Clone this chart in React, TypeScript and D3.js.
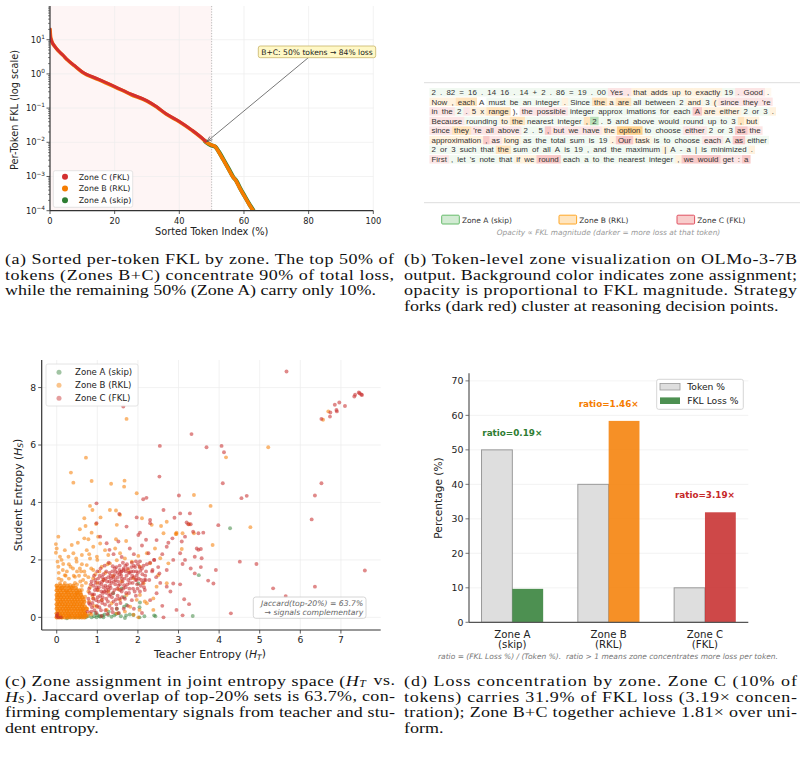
import * as d3 from "d3";
import React from "react";

// ---------- (a) sorted per-token FKL ----------
const fklIndex = [0, 0.15, 0.4, 0.8, 1.5, 2.5, 4, 5.5, 7.5, 10, 15, 20, 25, 30, 33, 36, 40, 44, 47.5, 48.5, 50, 51, 52, 53.5, 55, 56.5, 57.5, 58.5, 60, 61.5, 63, 64];
const fklValue = [21.4, 13.2, 10, 7.9, 6.3, 4.8, 3.5, 2.5, 1.74, 1.12, 0.68, 0.42, 0.25, 0.16, 0.107, 0.066, 0.04, 0.022, 0.012, 0.0098, 0.0083, 0.0076, 0.0056, 0.0032, 0.0018, 0.001, 0.00076, 0.0005, 0.00028, 0.00016, 0.000095, 0.000063];
const fklZone = ["C", "C", "C", "C", "C", "C", "C", "C", "C", "C", "C", "C", "C", "C", "C", "C", "C", "C", "C", "B", "B", "B", "B", "B", "B", "B", "B", "B", "B", "B", "B", "B"];
const fklXTicks = [0, 20, 40, 60, 80, 100];
const fklYTicks = [-4, -3, -2, -1, 0, 1];
const annotPoint = [48.5, 0.0104];

// ---------- (b) token visualization ----------
const tokenLines = [
  "2~a1 .~a1 82~a1 =~a1 16~a1 .~a1 14~a1 16~a1 .~a1 14~a1 +~a1 2~a1 .~a1 86~a1 =~a1 19~a1 .~a1 00~a1 Yes~c1 ,~c1 that~b1 adds~b1 up~b1 to~b1 exactly~b1 19~a1 .~c1 Good~c1 .~b0",
  "Now~b1 ,~b1 each~b2 A~a0 must~a1 be~a1 an~a1 integer~a1 .~b1 Since~a1 the~b2 a~b1 are~b2 all~a1 between~a1 2~a1 and~b1 3~a1 (~b1 since~c1 they~c1 're~c1",
  "in~c1 the~c1 2~a1 .~c1 5~b1 x~b1 range~b2 ),~a0 the~c1 possible~c1 integer~a1 approx~a1 imations~a1 for~a1 each~a1 A~c2 are~b1 either~b1 2~a1 or~a1 3~a1 .~b1",
  "Because~c1 rounding~a1 to~b1 the~b2 nearest~a1 integer~a1 ,~b2 2~a3 .~a1 5~a1 and~a1 above~a1 would~a1 round~a1 up~a1 to~a1 3~a1 ,~b2 but~b1",
  "since~c1 they~b2 're~c1 all~c1 above~c1 2~a1 .~a1 5~a1 ,~c2 but~c1 we~c1 have~c1 the~b1 option~b3 to~a1 choose~a1 either~c1 2~a1 or~a1 3~a1 as~c2 the~c1",
  "approximation~b1 ,~c2 as~c1 long~b1 as~a1 the~a1 total~a1 sum~a1 is~a1 19~a1 .~b1 Our~c2 task~b1 is~a1 to~a1 choose~a1 each~c1 A~a1 as~c2 either~a1",
  "2~a1 or~a1 3~a1 such~a1 that~a1 the~b2 sum~a1 of~a1 all~a1 A~a1 is~a1 19~a1 ,~a1 and~a1 the~a1 maximum~a1 |~b1 A~a1 -~a1 a~a1 |~a1 is~a1 minimized~a1 .~b1",
  "First~c1 ,~a1 let~a1 's~a1 note~a1 that~a1 if~b1 we~b1 round~c2 each~a1 a~a1 to~a1 the~a1 nearest~a1 integer~a1 ,~b1 we~c2 would~c2 get~c1 :~c1 a~c2",
];
const zoneRgb = { a: "76,175,80", b: "255,152,0", c: "229,57,53" };
const zoneAlpha = { a: [0, 0.08, 0.2, 0.4], b: [0.06, 0.13, 0.26, 0.45], c: [0.06, 0.13, 0.27, 0.4] };
const tokenLegend = ["Zone A (skip)", "Zone B (RKL)", "Zone C (FKL)"];

// ---------- (c) joint entropy scatter (H_T, H_S) ----------
const zoneAPoints =
  "0.05 0.02, 0.12 0.0, 0.25 -0.03, 0.32 0.01, 0.45 0.0, 0.57 0.0, 0.63 0.03, 0.72 0.0, 0.78 0.05, 0.86 0.0, 0.92 0.04, 0.98 0.0, 1.0 0.08, 1.05 0.05, 1.07 0.02, 1.13 0.06, 1.15 0.0, 1.18 0.1, 1.27 0.08, 1.35 0.02, 1.42 0.07, 1.46 0.12, 1.52 0.14, 1.58 0.04, 1.66 0.37, 1.66 0.7, 1.68 -0.02, 1.71 0.07, 1.72 0.43, 1.8 0.1, 1.89 0.08, 2.04 0.35, 2.04 0.0, 2.05 0.52, 2.16 0.04, 2.4 0.07, 2.43 0.04, 3.35 0.05, 3.5 1.47, 4.27 3.1, 1.39 0.84, 1.6 1.01, 2.01 1.18, 0.95 0.15, 1.28 0.2, 1.48 0.3";
const zoneBBlobRows: [number, number[]][] = [
  [0.0, [0.0, 0.06, 0.13, 0.2, 0.27, 0.34, 0.41, 0.48, 0.55, 0.62, 0.68]],
  [0.07, [0.02, 0.09, 0.16, 0.24, 0.3, 0.37, 0.45, 0.52, 0.58, 0.66, 0.71]],
  [0.14, [0.0, 0.07, 0.14, 0.21, 0.28, 0.35, 0.42, 0.5, 0.57, 0.63, 0.7]],
  [0.22, [0.03, 0.1, 0.18, 0.25, 0.31, 0.39, 0.46, 0.53, 0.6, 0.67]],
  [0.3, [0.0, 0.08, 0.15, 0.22, 0.29, 0.36, 0.44, 0.51, 0.58, 0.65, 0.73]],
  [0.38, [0.02, 0.11, 0.19, 0.26, 0.33, 0.4, 0.47, 0.55, 0.62, 0.69]],
  [0.46, [0.0, 0.07, 0.14, 0.21, 0.28, 0.36, 0.43, 0.5, 0.57, 0.64]],
  [0.54, [0.03, 0.1, 0.17, 0.25, 0.32, 0.39, 0.46, 0.53, 0.61, 0.68]],
  [0.62, [0.0, 0.08, 0.15, 0.22, 0.29, 0.37, 0.44, 0.51, 0.58, 0.66]],
  [0.7, [0.02, 0.1, 0.18, 0.26, 0.33, 0.41, 0.48, 0.56, 0.63]],
  [0.78, [0.0, 0.07, 0.14, 0.22, 0.3, 0.37, 0.45, 0.52, 0.6]],
  [0.86, [0.03, 0.11, 0.19, 0.27, 0.35, 0.43, 0.51, 0.58]],
  [0.94, [0.0, 0.08, 0.16, 0.24, 0.32, 0.4, 0.49, 0.56]],
  [1.02, [0.02, 0.12, 0.2, 0.3, 0.38, 0.47]],
  [1.1, [0.0, 0.09, 0.18, 0.27, 0.41]],
];
const zoneBPoints =
  "0.82 3.88, 0.88 3.74, 0.68 3.45, 1.31 3.74, 1.08 3.48, 0.71 3.18, 0.97 3.25, 0.86 2.95, 0.57 3.07, 0.78 2.72, 0.52 2.6, 0.68 2.75, 1.02 2.81, 1.48 3.22, 1.56 3.57, 1.46 2.72, 1.71 2.66, 2.1 3.45, 2.34 3.22, 2.57 3.18, 2.71 3.33, 2.95 2.9, 3.1 2.93, 0.0 2.4, -0.02 2.25, 0.02 1.94, 0.04 1.76, 0.08 2.11, 0.2 2.34, 0.37 2.52, 0.16 1.86, 0.29 2.11, 0.41 2.23, 0.49 1.94, 0.62 2.17, 0.74 2.34, 0.9 2.46, 1.07 2.57, 0.82 2.05, 0.99 2.11, 1.19 2.34, 1.27 2.17, 1.44 2.4, 1.56 2.23, 0.34 1.76, 0.57 1.7, 0.74 1.82, 0.9 1.65, 1.11 1.76, 1.31 1.88, 1.48 1.99, 1.68 2.05, 1.85 1.94, 2.01 2.14, 2.22 2.23, 2.42 2.4, 1.76 1.65, 2.05 1.76, 2.3 1.88, 0.2 1.47, 0.45 1.41, 0.7 1.47, 0.9 1.36, 1.15 1.3, 1.39 1.44, 1.6 1.25, 1.89 1.36, 2.14 1.19, 2.46 1.07, 2.71 1.19, 0.08 1.19, 0.33 1.13, 0.62 1.1, 0.82 1.05, 1.02 0.95, 1.27 0.9, 1.52 0.98, 1.72 0.78, 1.97 0.61, 2.22 0.49, 2.38 0.26, 2.04 0.26, 1.81 0.37, 1.56 0.61, 1.35 0.49, 1.11 0.61, 0.9 0.66, 0.7 0.72, 0.49 0.84, 0.99 0.37, 1.23 0.26, 1.48 0.14, 1.68 0.2, 1.89 0.09, 0.82 0.14, 0.64 0.26, -0.02 2.55, 0.04 2.81, 0.75 0.3, 0.8 0.55, 0.85 0.1, 0.78 0.9, 0.92 0.4, 0.88 0.75, 1.0 1.2, 0.95 1.5, 0.65 1.3, 0.55 1.45, 0.45 1.2, 0.3 1.35, 0.12 1.3, 0.05 1.55, 0.25 1.6, 0.4 1.7, 0.6 1.6, " +
  "0.1 1.0, 0.2 1.2, 0.35 1.05, 0.5 1.15, 0.62 0.95, 0.72 1.2, 0.78 1.4, 0.68 1.6, 0.5 1.6, 0.3 1.85, 0.15 1.65, 0.05 1.35, 0.25 0.9, 0.7 0.15, 0.75 0.05, 0.58 1.25, 0.42 1.45, 0.22 1.45, 0.12 2.0, 0.48 2.05, 0.62 1.85, 0.85 1.7, 1.05 1.6, 1.2 1.55, 1.25 1.85, 1.0 2.0, 0.8 2.2, " +
  "0.35 5.04, 0.41 4.69, 0.72 5.56, 0.86 4.75, 1.34 4.65, 1.66 4.55, 1.67 4.76, 1.72 6.91, 1.97 4.32, 5.21 5.92, 4.17 5.57, 3.38 4.26, 3.79 3.88, 4.77 3.14, 3.84 2.52, 3.38 2.93, 2.93 2.9, 2.95 2.95, 1.46 3.72, 6.69 7.17, 6.56 6.88, 3.26 3.24, 2.63 2.93, 3.08 2.38, 2.55 2.06, 2.75 1.88, 2.5 1.47, 2.05 0.78, 2.38 0.66, 2.17 0.55, 2.01 0.0";
const zoneCPoints =
  "0.0 0.05, 0.03 0.0, 0.02 0.12, 0.1 0.0, 0.82 0.45, 0.88 0.8, 0.9 1.1, 0.93 0.25, 0.97 0.6, 1.0 0.95, 1.02 1.35, 1.05 0.35, 1.07 0.75, 1.1 1.15, 1.12 0.5, 1.15 1.5, 1.17 0.9, 1.2 0.25, 1.22 0.65, 1.25 1.05, 1.27 1.4, 1.3 0.4, 1.32 0.8, 1.35 1.2, 1.37 1.6, 1.4 0.55, 1.42 0.95, 1.45 1.3, 1.48 0.3, 1.5 0.75, 1.52 1.1, 1.55 1.5, 1.57 0.5, 1.6 0.9, 1.62 1.25, 1.65 1.65, 1.68 0.65, 1.7 1.05, 1.72 1.45, 1.75 0.4, 1.78 0.85, 1.8 1.2, 1.83 1.6, 1.85 0.6, 1.88 1.0, 1.9 1.4, 1.93 1.75, 1.95 0.75, 1.98 1.15, 2.0 1.55, 2.05 0.9, 2.08 1.3, 2.1 1.7, 2.15 1.05, 2.18 1.45, 2.22 1.85, 0.85 0.2, 0.95 1.3, 1.08 1.7, 1.18 1.8, 1.28 1.9, 1.38 1.78, 1.47 1.75, 1.55 1.8, 1.63 1.9, 1.73 1.85, 1.58 1.58, 1.42 1.48, 1.33 1.02, 1.23 0.85, 1.13 0.7, 1.03 0.55, 0.98 0.15, 1.1 0.05, 1.25 0.12, 1.38 0.18, 1.53 0.15, 1.65 0.3, 0.78 0.65, 0.8 1.0, 0.86 1.25, 0.92 1.45, 1.0 1.6, 1.12 1.25, 1.2 1.35, 1.3 1.55, 1.36 0.7, 1.46 0.62, 1.56 0.95, 1.66 1.12, 1.76 1.3, 1.86 1.45, 1.96 1.6, 2.06 1.62, 2.12 1.2, 2.2 1.6, 2.28 1.3, 2.3 1.9, 2.35 1.6, 2.4 2.0, 2.45 1.4, 2.5 1.75, 1.1 0.9, 1.15 1.05, 1.2 1.1, 1.28 0.95, 1.34 1.35, 1.44 1.15, 1.5 1.4, 1.6 1.35, 1.7 1.6, 1.8 1.55, 1.9 1.8, 2.0 1.85, 1.45 1.6, 1.55 1.65, 1.65 1.7, " +
  "0.76 0.2, 0.79 0.5, 0.81 0.85, 0.84 1.15, 0.87 0.35, 0.9 0.65, 0.94 0.95, 0.96 1.2, 0.99 0.4, 1.01 0.7, 1.04 1.05, 1.06 1.45, 1.09 0.25, 1.11 0.6, 1.14 0.85, 1.16 1.3, 1.19 0.45, 1.21 0.95, 1.24 1.25, 1.26 0.55, 1.29 0.75, 1.31 1.1, 1.33 1.45, 1.36 0.3, 1.39 0.85, 1.41 1.25, 1.43 1.7, 1.47 0.45, 1.49 1.0, 1.51 1.25, 1.54 0.65, 1.56 1.15, 1.59 1.45, 1.61 0.7, 1.64 1.0, 1.67 1.35, 1.69 1.8, 1.71 0.85, 1.74 1.15, 1.77 1.55, 1.79 1.0, 1.82 1.35, 1.84 1.75, 1.87 1.2, 1.89 1.6, 1.92 0.9, 1.94 1.3, 1.97 1.45, 1.99 1.0, 2.02 1.35, 2.04 1.75, 2.07 1.1, 2.11 1.5, 2.14 1.8, 2.16 1.3, 1.6 1.6, 1.5 1.55, 1.4 1.4, 1.3 1.25, 1.22 1.6, 1.12 1.4, 1.05 1.2, 0.98 1.05, 0.92 0.8, 0.88 0.5, 1.75 1.7, 1.85 1.9, 1.95 1.95, 2.05 1.95, " +
  "3.04 3.62, 2.9 3.47, 2.63 3.74, 3.2 3.3, 3.28 3.62, 3.36 2.98, 3.49 2.93, 3.16 2.81, 3.08 2.64, 2.85 2.75, 2.71 2.46, 2.46 2.69, 2.26 2.23, 2.4 2.0, 2.87 2.0, 3.04 2.23, 3.16 2.0, 3.4 2.11, 3.4 1.53, 3.1 1.86, 2.71 1.65, 2.53 1.53, 2.36 1.65, 2.19 1.3, 2.71 1.07, 2.87 1.18, 3.04 1.15, 3.45 2.4, 3.49 2.35, 3.57 2.06, 1.97 1.3, 2.17 0.95, 2.46 0.84, 1.72 3.16, 2.01 2.87, 2.3 3.39, 1.23 2.58, 1.07 2.81, 1.52 2.64, 0.98 3.28, 1.54 3.6, 1.97 3.48, 2.3 3.28, 2.05 2.95, 1.8 2.4, 1.9 2.2, 2.1 2.5, 1.6 2.1, 1.4 2.2, 2.6 2.2, 2.75 2.6, 2.2 2.7, 1.3 2.35, 2.55 1.2, 2.3 0.6, 2.6 0.4, 1.9 0.3, 2.1 0.15, 2.8 0.9, 3.3 1.7, 3.55 1.75, " +
  "5.66 8.56, 7.46 7.8, 7.5 7.76, 7.44 7.83, 7.52 7.74, 7.35 7.75, 7.33 7.69, 7.1 7.36, 6.96 7.48, 6.85 7.4, 6.89 7.22, 6.9 7.17, 6.74 7.13, 6.73 6.99, 6.52 6.91, 6.52 4.67, 6.36 4.24, 6.28 3.41, 6.36 1.07, 7.59 1.63, 5.64 0.74, 5.33 1.01, 4.92 1.86, 4.51 1.94, 4.68 4.23, 4.55 4.15, 4.06 5.97, 4.12 5.75, 4.09 4.67, 3.69 5.92, 3.32 6.38, 2.54 5.97, 2.53 4.9, 3.01 4.24, 2.13 4.11, 2.21 4.16, 1.64 7.34, 3.98 3.21, 3.24 3.24, 3.3 3.24, 3.61 2.95, 3.55 2.38, 3.92 1.65, 3.73 1.28, 3.86 1.18, 4.29 0.14, 3.14 0.63, 2.95 0.26, 3.1 0.07, 2.63 0.0, 3.26 0.46, 0.98 3.97";
const scatterXTicks = [0, 1, 2, 3, 4, 5, 6, 7];
const scatterYTicks = [0, 2, 4, 6, 8];

// ---------- (d) loss concentration ----------
const zones = ["Zone A", "Zone B", "Zone C"];
const zoneSub = ["(skip)", "(RKL)", "(FKL)"];
const tokenPct = [50, 40, 10];
const fklLossPct = [9.7, 58.4, 31.9];
const ratioLabels = ["ratio=0.19×", "ratio=1.46×", "ratio=3.19×"];
const barYTicks = [0, 10, 20, 30, 40, 50, 60, 70];

// ---------- captions ----------
const capA = [
  "(a) Sorted per-token FKL by zone. The top 50% of",
  "tokens (Zones B+C) concentrate 90% of total loss,",
  "while the remaining 50% (Zone A) carry only 10%.",
];
const capB = [
  "(b) Token-level zone visualization on OLMo-3-7B",
  "output. Background color indicates zone assignment;",
  "opacity is proportional to FKL magnitude. Strategy",
  "forks (dark red) cluster at reasoning decision points.",
];
const capC = [
  "(c) Zone assignment in joint entropy space ($H_T$ vs.",
  "$H_S$). Jaccard overlap of top-20% sets is 63.7%, con-",
  "firming complementary signals from teacher and stu-",
  "dent entropy.",
];
const capD = [
  "(d) Loss concentration by zone.  Zone C (10% of",
  "tokens) carries 31.9% of FKL loss (3.19× concen-",
  "tration); Zone B+C together achieve 1.81× over uni-",
  "form.",
];

const SANS = '"DejaVu Sans", sans-serif';
const SERIF = '"Liberation Serif", "Times New Roman", serif';
const RED = "#d32f2f";
const ORANGE = "#f57c00";
const GREEN = "#2e7d32";
const AXIS = "#333";
const GRID = "#ececec";

function parsePts(s: string) {
  return s.split(",").map((p) => p.trim().split(/\s+/).map(Number));
}

let measureCtx: CanvasRenderingContext2D | null = null;
function textWidth(s: string, font: string) {
  if (!measureCtx) measureCtx = document.createElement("canvas").getContext("2d");
  measureCtx!.font = font;
  return measureCtx!.measureText(s).width;
}

function MathLabel({ base, sub }: { base: string; sub: string }) {
  return (
    <>
      <tspan>{base} (</tspan>
      <tspan fontStyle="italic">H</tspan>
      <tspan fontStyle="italic" fontSize="0.7em" dy="0.25em">{sub}</tspan>
      <tspan dy="-0.25em">)</tspan>
    </>
  );
}

function PanelA() {
  const x = d3.scaleLinear().domain([0, 100]).range([50, 373.3]);
  const y = d3.scaleLog().domain([1e-4, Math.pow(10, 1.985)]).range([210.7, 6]);
  const pts = fklIndex.map((d, i) => [d, fklValue[i], fklZone[i]] as [number, number, string]);
  const line = d3.line<[number, number, string]>().x((d) => x(d[0])).y((d) => y(d[1])).curve(d3.curveMonotoneX);
  const lastC = pts.map((p) => p[2]).lastIndexOf("C");
  const cPts = pts.slice(0, lastC + 2);
  const bPts = pts.slice(lastC);
  const minor: number[] = [];
  for (let e = -4; e <= 1; e++) for (let m = 2; m <= 9; m++) {
    const v = m * Math.pow(10, e);
    if (v < y.domain()[1]) minor.push(v);
  }
  const [ax, ay] = [x(annotPoint[0]), y(annotPoint[1])];
  const sx = 308.3, sy = 57.7;
  const ang = Math.atan2(ay - sy, ax - sx);
  const hl = 6;
  return (
    <g fontFamily={SANS}>
      <defs>
        <clipPath id="clipA"><rect x={50} y={6} width={323.3} height={204.7} /></clipPath>
      </defs>
      <rect x={x(0)} y={6} width={x(50) - x(0)} height={204.7} fill="rgba(229,57,53,0.05)" />
      {fklXTicks.slice(1).map((t) => (
        <line key={t} x1={x(t)} x2={x(t)} y1={6} y2={210.7} stroke={GRID} strokeWidth={0.7} />
      ))}
      {fklYTicks.map((t) => (
        <line key={t} x1={50} x2={373.3} y1={y(Math.pow(10, t))} y2={y(Math.pow(10, t))} stroke={GRID} strokeWidth={0.7} />
      ))}
      <line x1={x(50)} x2={x(50)} y1={6} y2={210.7} stroke="#aaa" strokeWidth={0.8} strokeDasharray="1.2,1.5" />
      <g clipPath="url(#clipA)">
        <path d={line(bPts)!} fill="none" stroke={GREEN} strokeWidth={4.2} transform="translate(0.6,0.6)" />
        <path d={line(pts)!} fill="none" stroke={ORANGE} strokeWidth={3.6} />
        <path d={line(cPts)!} fill="none" stroke={RED} strokeWidth={3} transform="translate(-0.3,-0.5)" />
      </g>
      <line x1={50} x2={50} y1={6} y2={210.7} stroke={AXIS} strokeWidth={1.2} />
      <line x1={50} x2={373.3} y1={210.7} y2={210.7} stroke={AXIS} strokeWidth={1.2} />
      {fklXTicks.map((t) => (
        <g key={t}>
          <line x1={x(t)} x2={x(t)} y1={210.7} y2={214} stroke={AXIS} strokeWidth={0.8} />
          <text x={x(t)} y={223.5} fontSize={8.3} textAnchor="middle" fill="#222">{t}</text>
        </g>
      ))}
      {minor.map((v, i) => (
        <line key={i} x1={48} x2={50} y1={y(v)} y2={y(v)} stroke={AXIS} strokeWidth={0.6} />
      ))}
      {fklYTicks.map((t) => (
        <g key={t}>
          <line x1={46.5} x2={50} y1={y(Math.pow(10, t))} y2={y(Math.pow(10, t))} stroke={AXIS} strokeWidth={0.8} />
          <text x={45} y={y(Math.pow(10, t)) + 3} fontSize={8.3} textAnchor="end" fill="#222">
            10<tspan fontSize={5.8} dy={-3.8}>{t < 0 ? "−" + -t : t}</tspan>
          </text>
        </g>
      ))}
      <text x={211.7} y={234.5} fontSize={9.8} textAnchor="middle" fill="#222">Sorted Token Index (%)</text>
      <text transform="translate(17.5,110) rotate(-90)" fontSize={9.8} textAnchor="middle" fill="#222">Per-Token FKL (log scale)</text>
      <line x1={sx} y1={sy} x2={ax} y2={ay} stroke="#555" strokeWidth={0.8} />
      <path
        d={`M${ax - hl * Math.cos(ang - 0.35)},${ay - hl * Math.sin(ang - 0.35)} L${ax},${ay} L${ax - hl * Math.cos(ang + 0.35)},${ay - hl * Math.sin(ang + 0.35)}`}
        fill="none" stroke="#555" strokeWidth={0.8}
      />
      <rect x={258.3} y={46} width={117.4} height={11.7} rx={2} fill="#fff8c6" stroke="#c8b468" strokeWidth={0.8} />
      <text x={317} y={54.6} fontSize={7.6} textAnchor="middle" fill="#222">B+C: 50% tokens → 84% loss</text>
      <rect x={53.3} y={170.7} width={79.4} height={36.6} rx={2} fill="white" fillOpacity={0.85} stroke="#ddd" strokeWidth={0.8} />
      {[["Zone C (FKL)", RED], ["Zone B (RKL)", ORANGE], ["Zone A (skip)", GREEN]].map(([lab, c], i) => (
        <g key={lab}>
          <circle cx={65} cy={176.7 + i * 11.8} r={3} fill={c} />
          <text x={78.7} y={176.7 + i * 11.8 + 2.8} fontSize={7.9} fill="#222">{lab}</text>
        </g>
      ))}
    </g>
  );
}

function PanelB() {
  const fs = 7.9;
  const font = `${fs}px "Liberation Sans"`;
  const gap = 4.15;
  const x0 = 431.5;
  const rows = tokenLines.map((ln, li) => {
    let cx = x0;
    const cy = 92.3 + li * 9.58;
    return ln.split(" ").map((tk, ti) => {
      const [txt, code] = tk.split("~");
      const w = textWidth(txt, font);
      const z = code[0] as "a" | "b" | "c";
      const a = zoneAlpha[z][+code[1]];
      const el = (
        <g key={li + "-" + ti}>
          <rect x={cx - gap / 2} y={cy - 4.3} width={w + gap} height={8.5} fill={`rgba(${zoneRgb[z]},${a})`} />
          <text x={cx} y={cy + 2.7} fontSize={fs} fill="#333">{txt}</text>
        </g>
      );
      cx += w + gap;
      return el;
    });
  });
  const legX = [441.7, 559, 677];
  const legC = ["a", "b", "c"];
  const strokes = ["#66bb6a", "#ffa726", "#e05060"];
  return (
    <g fontFamily='"Liberation Sans", Arial, sans-serif'>
      <line x1={424} x2={800} y1={82.7} y2={82.7} stroke="#ddd" strokeWidth={1} />
      <line x1={424} x2={800} y1={202.7} y2={202.7} stroke="#ddd" strokeWidth={1} />
      {rows}
      <g fontFamily={SANS}>
        {tokenLegend.map((lab, i) => (
          <g key={lab}>
            <rect x={legX[i]} y={215.2} width={17.6} height={8.8} rx={1} fill={`rgba(${zoneRgb[legC[i] as "a"]},0.25)`} stroke={strokes[i]} strokeWidth={1} />
            <text x={legX[i] + 20.2} y={222.6} fontSize={7.5} fill="#333">{lab}</text>
          </g>
        ))}
        <text x={608.5} y={234.5} fontSize={7.4} fontStyle="italic" textAnchor="middle" fill="#999">
          Opacity ∝ FKL magnitude (darker = more loss at that token)
        </text>
      </g>
    </g>
  );
}

function PanelC() {
  const x = d3.scaleLinear().domain([-0.37, 7.98]).range([41.7, 380.7]);
  const y = d3.scaleLinear().domain([-0.44, 8.96]).range([630, 360]);
  const blob: number[][] = [];
  zoneBBlobRows.forEach(([yy, xs]) => xs.forEach((xx) => blob.push([xx, yy])));
  const series: [number[][], string, number][] = [
    [parsePts(zoneAPoints), GREEN, 0.5],
    [blob, ORANGE, 0.75],
    [parsePts(zoneBPoints), ORANGE, 0.55],
    [parsePts(zoneCPoints), "#c62828", 0.55],
  ];
  return (
    <g fontFamily={SANS}>
      {scatterXTicks.map((t) => (
        <line key={t} x1={x(t)} x2={x(t)} y1={360} y2={630} stroke={GRID} strokeWidth={0.7} />
      ))}
      {scatterYTicks.map((t) => (
        <line key={t} x1={41.7} x2={380.7} y1={y(t)} y2={y(t)} stroke={GRID} strokeWidth={0.7} />
      ))}
      {series.map(([pts, c, op], si) => (
        <g key={si} fill={c} fillOpacity={op}>
          {pts.map((p, i) => (
            <circle key={i} cx={x(p[0])} cy={y(p[1])} r={si === 1 ? 2.2 : 1.95} />
          ))}
        </g>
      ))}
      <line x1={41.7} x2={41.7} y1={360} y2={630} stroke={AXIS} strokeWidth={1.2} />
      <line x1={41.7} x2={380.7} y1={630} y2={630} stroke={AXIS} strokeWidth={1.2} />
      {scatterXTicks.map((t) => (
        <g key={t}>
          <line x1={x(t)} x2={x(t)} y1={630} y2={633.5} stroke={AXIS} strokeWidth={0.8} />
          <text x={x(t)} y={643} fontSize={9.2} textAnchor="middle" fill="#222">{t}</text>
        </g>
      ))}
      {scatterYTicks.map((t) => (
        <g key={t}>
          <line x1={38.2} x2={41.7} y1={y(t)} y2={y(t)} stroke={AXIS} strokeWidth={0.8} />
          <text x={36} y={y(t) + 3.2} fontSize={9.2} textAnchor="end" fill="#222">{t}</text>
        </g>
      ))}
      <text x={210} y={657.8} fontSize={10.8} textAnchor="middle" fill="#222">
        <MathLabel base="Teacher Entropy" sub="T" />
      </text>
      <text transform="translate(21.5,495) rotate(-90)" fontSize={10.8} textAnchor="middle" fill="#222">
        <MathLabel base="Student Entropy" sub="S" />
      </text>
      <rect x={46} y={364} width={92} height={42} rx={2} fill="white" fillOpacity={0.9} stroke="#ddd" strokeWidth={0.8} />
      {[["Zone A (skip)", GREEN], ["Zone B (RKL)", ORANGE], ["Zone C (FKL)", "#c62828"]].map(([lab, c], i) => (
        <g key={lab}>
          <circle cx={59} cy={372.3 + i * 13} r={2.5} fill={c} fillOpacity={0.45} />
          <text x={75} y={372.3 + i * 13 + 3.1} fontSize={8.6} fill="#222">{lab}</text>
        </g>
      ))}
      <rect x={253.3} y={597} width={112.7} height={21.3} rx={2.5} fill="white" fillOpacity={0.85} stroke="#ccc" strokeWidth={0.8} />
      <text x={363.3} y={606} fontSize={7.7} fontStyle="italic" textAnchor="end" fill="#666">Jaccard(top-20%) = 63.7%</text>
      <text x={363.3} y={615.2} fontSize={7.7} fontStyle="italic" textAnchor="end" fill="#666">→ signals complementary</text>
    </g>
  );
}

function PanelD() {
  const x = d3.scaleLinear().domain([-0.45, 2.45]).range([469, 748.3]);
  const y = d3.scaleLinear().domain([0, 72.2]).range([622.3, 373.3]);
  const bw = 0.32;
  const fklColors = ["rgba(46,125,50,0.85)", "rgba(245,124,0,0.85)", "rgba(198,40,40,0.85)"];
  const txtColors = [GREEN, ORANGE, "#c62828"];
  return (
    <g fontFamily={SANS}>
      {barYTicks.slice(1).map((t) => (
        <line key={t} x1={469} x2={748.3} y1={y(t)} y2={y(t)} stroke="#f0f0f0" strokeWidth={0.8} />
      ))}
      {zones.map((z, i) => (
        <g key={z}>
          <rect x={x(i - bw)} y={y(tokenPct[i])} width={x(i) - x(i - bw)} height={y(0) - y(tokenPct[i])}
            fill="#dedede" stroke="#9a9a9a" strokeWidth={1} />
          <rect x={x(i)} y={y(fklLossPct[i])} width={x(i + bw) - x(i)} height={y(0) - y(fklLossPct[i])}
            fill={fklColors[i]} />
          <text x={x(i)} y={y(Math.max(tokenPct[i], fklLossPct[i]) + 5) + 3.2} fontSize={8.8} fontWeight="bold"
            textAnchor="middle" fill={txtColors[i]}>{ratioLabels[i]}</text>
          <text x={x(i)} y={637.8} fontSize={10.2} textAnchor="middle" fill="#222">{z}</text>
          <text x={x(i)} y={648.2} fontSize={10.2} textAnchor="middle" fill="#222">{zoneSub[i]}</text>
        </g>
      ))}
      <line x1={469} x2={469} y1={373.3} y2={622.3} stroke="#555" strokeWidth={1.2} />
      <line x1={469} x2={748.3} y1={622.3} y2={622.3} stroke="#555" strokeWidth={1.2} />
      {barYTicks.map((t) => (
        <g key={t}>
          <line x1={465.5} x2={469} y1={y(t)} y2={y(t)} stroke="#555" strokeWidth={0.8} />
          <text x={463.5} y={y(t) + 3.3} fontSize={9.4} textAnchor="end" fill="#222">{t}</text>
        </g>
      ))}
      <text transform="translate(442,498) rotate(-90)" fontSize={10.6} textAnchor="middle" fill="#222">Percentage (%)</text>
      <rect x={656.7} y={379.3} width={86.6} height={30} rx={2} fill="white" stroke="#ccc" strokeWidth={0.8} />
      <rect x={660} y={383.4} width={20} height={6.6} fill="#dedede" stroke="#9a9a9a" strokeWidth={0.8} />
      <text x={687.3} y={390.2} fontSize={9.2} fill="#222">Token %</text>
      <rect x={660} y={397.4} width={20} height={6.6} fill={fklColors[0]} />
      <text x={687.3} y={404.2} fontSize={9.2} fill="#222">FKL Loss %</text>
      <text x={608} y={659} fontSize={7.5} fontStyle="italic" textAnchor="middle" fill="#777">
        ratio = (FKL Loss %) / (Token %).{"\u00a0\u00a0"}ratio {">"} 1 means zone concentrates more loss per token.
      </text>
    </g>
  );
}

function CapLine({ s }: { s: string }) {
  const parts = s.split(/(\$H_[A-Z]\$)/);
  return (
    <>
      {parts.map((p, i) => {
        const m = p.match(/^\$H_([A-Z])\$$/);
        if (!m) return <tspan key={i}>{p}</tspan>;
        return (
          <React.Fragment key={i}>
            <tspan fontStyle="italic">H</tspan>
            <tspan fontStyle="italic" fontSize="0.65em" dy="0.15em">{m[1]}</tspan>
            <tspan dy="-0.15em">{"\u200a"}</tspan>
          </React.Fragment>
        );
      })}
    </>
  );
}

function Caption({ lines, x0, width, y0 }: { lines: string[]; x0: number; width: number; y0: number }) {
  const sx = 1.2;
  const fs = 15;
  return (
    <g transform={`translate(${x0},0) scale(${sx},1)`} fontFamily={SERIF} fontSize={fs} fill="#111">
      {lines.map((s, i) => (
        <text key={i} x={0} y={y0 + i * 15.6}
          {...(i < lines.length - 1 ? { textLength: width / sx, lengthAdjust: "spacing" } : {})}>
          <CapLine s={s} />
        </text>
      ))}
    </g>
  );
}

export default function App() {
  return (
    <svg width={807} height={764} viewBox="0 0 807 764"
      style={{ position: "absolute", left: 0, top: 0, background: "white" }}>
      <rect width={807} height={764} fill="white" />
      <PanelA />
      <PanelB />
      <PanelC />
      <PanelD />
      <Caption lines={capA} x0={5} width={389} y0={264} />
      <Caption lines={capB} x0={404} width={393} y0={264} />
      <Caption lines={capC} x0={5} width={390} y0={686} />
      <Caption lines={capD} x0={404} width={393} y0={686} />
    </svg>
  );
}
